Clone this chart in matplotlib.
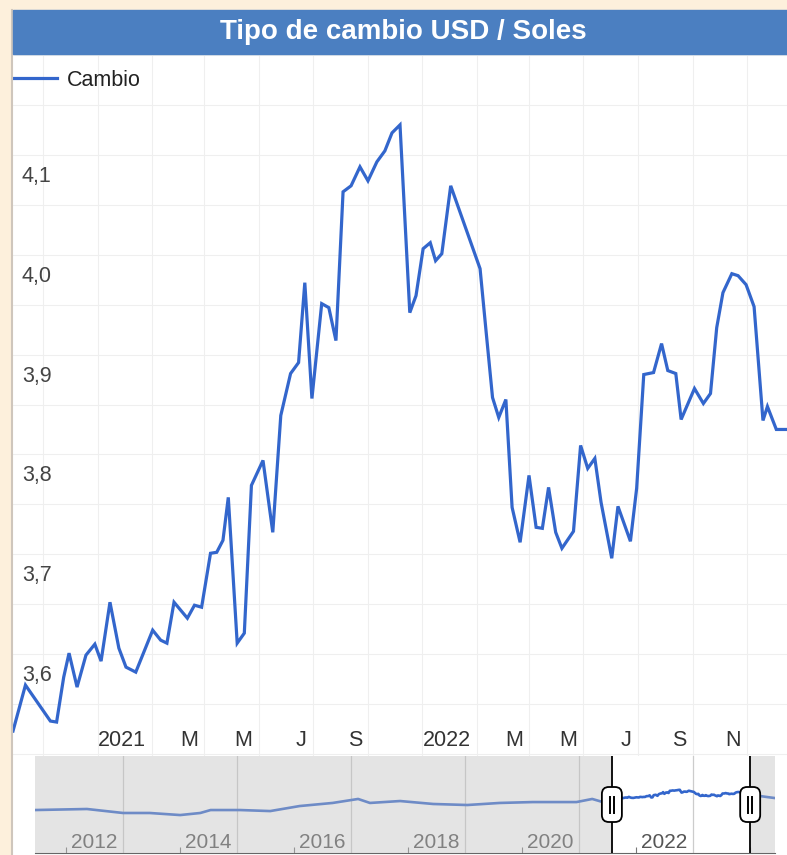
import matplotlib
matplotlib.use('Agg')
import matplotlib.pyplot as plt
import matplotlib.dates as mdates
import matplotlib.transforms as mtransforms
from matplotlib.patches import Rectangle, FancyBboxPatch
from matplotlib.lines import Line2D
import numpy as np
import pandas as pd

plt.rcParams['font.family'] = ['Liberation Sans', 'DejaVu Sans']

# tipo de cambio (lectura aproximada del grafico)
fechas = [
    '2020-07-29', '2020-08-12', '2020-09-09', '2020-09-16', '2020-09-24', '2020-09-30',
    '2020-10-09', '2020-10-19', '2020-10-29', '2020-11-05', '2020-11-15', '2020-11-25',
    '2020-12-03', '2020-12-14',
    '2021-01-02', '2021-01-11', '2021-01-18', '2021-01-26', '2021-02-10', '2021-02-18',
    '2021-02-26', '2021-03-08', '2021-03-15', '2021-03-22', '2021-03-28', '2021-04-07',
    '2021-04-15', '2021-04-23', '2021-05-06', '2021-05-17', '2021-05-26', '2021-06-06',
    '2021-06-15', '2021-06-22', '2021-06-30', '2021-07-11', '2021-07-19', '2021-07-27',
    '2021-08-04', '2021-08-13', '2021-08-23', '2021-09-01', '2021-09-11', '2021-09-20',
    '2021-09-28', '2021-10-07', '2021-10-18', '2021-10-25', '2021-11-02', '2021-11-10',
    '2021-11-16', '2021-11-23', '2021-12-03',
    '2022-01-05', '2022-01-12', '2022-01-19', '2022-01-26', '2022-02-03', '2022-02-10',
    '2022-02-19', '2022-03-01', '2022-03-09', '2022-03-16', '2022-03-23', '2022-03-31',
    '2022-04-07', '2022-04-20', '2022-04-28', '2022-05-06', '2022-05-14', '2022-05-21',
    '2022-06-02', '2022-06-09', '2022-06-23', '2022-06-30', '2022-07-08', '2022-07-19',
    '2022-07-28', '2022-08-04', '2022-08-13', '2022-08-19', '2022-09-03', '2022-09-13',
    '2022-09-21', '2022-09-28', '2022-10-05', '2022-10-15', '2022-10-22', '2022-10-31',
    '2022-11-09', '2022-11-19', '2022-11-24', '2022-12-04', '2022-12-16']
cambio = [
    3.523, 3.569, 3.533, 3.532, 3.577, 3.601, 3.567, 3.599, 3.610, 3.593, 3.652, 3.606,
    3.587, 3.582,
    3.624, 3.614, 3.611, 3.652, 3.636, 3.649, 3.647, 3.701, 3.702, 3.714, 3.757, 3.611,
    3.621, 3.769, 3.794, 3.722, 3.839, 3.881, 3.892, 3.972, 3.856, 3.951, 3.947, 3.914,
    4.063, 4.069, 4.088, 4.074, 4.093, 4.104, 4.122, 4.130, 3.942, 3.959, 4.006, 4.012,
    3.994, 4.001, 4.069,
    3.986, 3.921, 3.857, 3.837, 3.855, 3.747, 3.712, 3.779, 3.727, 3.726, 3.767, 3.722,
    3.706, 3.723, 3.809, 3.786, 3.796, 3.752, 3.696, 3.748, 3.713, 3.766, 3.880, 3.882,
    3.911, 3.884, 3.881, 3.835, 3.866, 3.851, 3.861, 3.927, 3.962, 3.981, 3.979, 3.970,
    3.948, 3.834, 3.848, 3.825, 3.825]

# serie larga del selector de rango
hist_fechas = ['2010-06-16', '2011-05-15', '2012-01-01', '2012-06-20', '2013-01-01',
               '2013-05-10', '2013-07-15', '2014-01-20', '2014-08-01', '2015-02-05',
               '2015-09-05', '2016-02-15', '2016-05-01', '2016-11-10', '2017-06-10',
               '2018-01-15', '2018-08-10', '2019-03-10', '2019-12-15', '2020-03-25',
               '2020-06-01']
hist_cambio = [2.76, 2.83, 2.56, 2.56, 2.42, 2.56, 2.76, 2.76, 2.69, 3.03, 3.24, 3.51,
               3.24, 3.37, 3.17, 3.10, 3.24, 3.30, 3.30, 3.51, 3.30]
cola_fechas = ['2023-04-20', '2023-06-09']
cola_cambio = [3.64, 3.57]

x_etiquetas = ['2021', 'M', 'M', 'J', 'S', '2022', 'M', 'M', 'J', 'S', 'N']
x_etiq_fechas = ['2021-01-01', '2021-03-01', '2021-05-01', '2021-07-01', '2021-09-01',
                 '2022-01-01', '2022-03-01', '2022-05-01', '2022-07-01', '2022-09-01',
                 '2022-11-01']
y_etiquetas = [3.6, 3.7, 3.8, 3.9, 4.0, 4.1]
nav_anios = [2012, 2014, 2016, 2018, 2020, 2022]

sel_inicio = '2020-07-29'
sel_fin = '2023-01-01'

W, H = 787, 855
AZUL = '#3366cc'
fig = plt.figure(figsize=(W / 100, H / 100), dpi=100)
fig.patch.set_facecolor('white')


def fx(px):
    return px / W


def fy(py):
    return 1 - py / H


# marco beige y barra de titulo
fig.add_artist(Rectangle((0, fy(10)), 1, 10 / H, transform=fig.transFigure,
                         color='#fdf0dc', zorder=0))
fig.add_artist(Rectangle((0, 0), fx(10), 1, transform=fig.transFigure,
                         color='#fdf0dc', zorder=0))
fig.add_artist(Line2D([fx(11.5), fx(11.5)], [0, fy(10)], transform=fig.transFigure,
                      color='#cfc6bc', lw=1.5))
fig.add_artist(Rectangle((fx(13), fy(54)), 1 - fx(13), 44 / H, transform=fig.transFigure,
                         color='#4b7fc1', zorder=5))
fig.text(fx(403), fy(32), 'Tipo de cambio USD / Soles', color='white',
         fontsize=20, fontweight='bold', ha='center', va='center', zorder=6)

t = pd.to_datetime(fechas)

# grafico principal
ax = fig.add_axes([fx(13), fy(756), 1 - fx(13), (756 - 55) / H])
ax.plot(t, cambio, color=AZUL, lw=2.3, solid_joinstyle='miter', label='Cambio', zorder=3)
ax.set_xlim(t[0], t[-1])
ax.set_ylim(3.498, 4.199)
ax.set_yticks(np.arange(3.5, 4.2, 0.05))
ax.xaxis.set_major_locator(mdates.MonthLocator(bymonth=[1, 3, 5, 7, 9, 11]))
ax.grid(True, color='#efefef', lw=0.8)
ax.tick_params(length=0, labelbottom=False, labelleft=False)
for s in ax.spines.values():
    s.set_visible(False)

ylab_tr = mtransforms.offset_copy(
    mtransforms.blended_transform_factory(ax.transAxes, ax.transData),
    fig=fig, x=0, y=-27, units='dots')
for v in y_etiquetas:
    ax.text(9 / 774, v, f'{v:.1f}'.replace('.', ','), transform=ylab_tr,
            fontsize=15.5, color='#444444', ha='left', va='baseline')

xlab_tr = mtransforms.offset_copy(
    mtransforms.blended_transform_factory(ax.transData, ax.transAxes),
    fig=fig, x=-6, y=10, units='dots')
for lab, d in zip(x_etiquetas, pd.to_datetime(x_etiq_fechas)):
    ax.text(d, 0, lab, transform=xlab_tr, fontsize=15.5, color='#333333',
            ha='right', va='baseline')

ax.legend(loc='center left', bbox_to_anchor=(0, (756 - 80) / 701), frameon=False,
          borderpad=0, borderaxespad=0, handlelength=2.05, handletextpad=0.45,
          fontsize=15.5, labelcolor='#222222')

# selector de rango
nav_t = pd.to_datetime(hist_fechas + fechas + cola_fechas)
nav_v = np.array(hist_cambio + cambio + cola_cambio)
s0, s1 = pd.Timestamp(sel_inicio), pd.Timestamp(sel_fin)

nav = fig.add_axes([fx(35), fy(853), fx(775) - fx(35), (853 - 756) / H])
nav.set_facecolor('white')
nav.plot(nav_t, nav_v, color=AZUL, lw=1.9, zorder=2)
for a in nav_anios:
    d = pd.Timestamp(f'{a}-01-01')
    nav.axvline(d, color='#cccccc', lw=0.9, zorder=1)
nav.set_xlim(pd.Timestamp('2010-06-16'), pd.Timestamp('2023-06-09'))
nav.set_ylim(-0.15, 6.42)
nav.set_xticks(pd.to_datetime([f'{a}-01-01' for a in range(2011, 2024, 2)]))
nav.set_yticks([])
nav.tick_params(axis='x', direction='in', length=4, color='#777777', labelbottom=False)
for k in ['top', 'left', 'right']:
    nav.spines[k].set_visible(False)
nav.spines['bottom'].set_color('#666666')

nlab_tr = mtransforms.offset_copy(
    mtransforms.blended_transform_factory(nav.transData, nav.transAxes),
    fig=fig, x=-6, y=5, units='dots')
for a in nav_anios:
    nav.text(pd.Timestamp(f'{a}-01-01'), 0, str(a), transform=nlab_tr, fontsize=15,
             color='#555555', ha='right', va='baseline', zorder=2)

# velo gris sobre la zona no seleccionada
nav.axvspan(nav_t[0] - pd.Timedelta(days=400), s0, color='#c0c0c0', alpha=0.42, lw=0, zorder=4)
nav.axvspan(s1, nav_t[-1] + pd.Timedelta(days=400), color='#c0c0c0', alpha=0.42, lw=0, zorder=4)

anchor = mtransforms.blended_transform_factory(nav.transData, nav.transAxes)
for d in [s0, s1]:
    nav.axvline(d, color='black', lw=1.3, zorder=5)
    tr = fig.dpi_scale_trans + mtransforms.ScaledTranslation(mdates.date2num(d), 0.5, anchor)
    nav.add_patch(FancyBboxPatch((-0.10, -0.175), 0.20, 0.35,
                                 boxstyle='round,pad=0,rounding_size=0.07',
                                 fc='white', ec='black', lw=1.3, transform=tr,
                                 zorder=6, clip_on=False))
    for dx in (-0.02, 0.02):
        nav.add_line(Line2D([dx, dx], [-0.08, 0.08], transform=tr, color='black',
                            lw=1.4, zorder=7))

fig.savefig('out.png', dpi=100)
